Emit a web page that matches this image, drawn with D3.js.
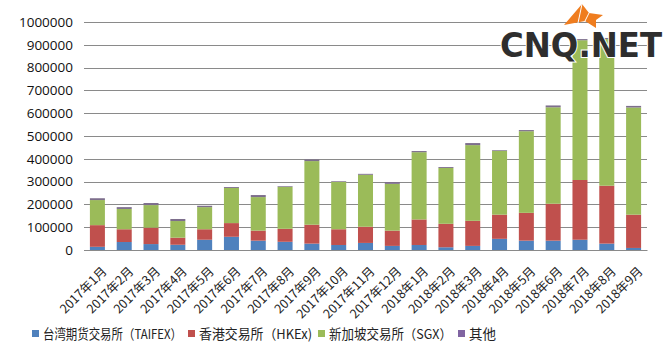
<!DOCTYPE html>
<html>
<head>
<meta charset="utf-8">
<script src="https://cdn.jsdelivr.net/npm/d3@7"></script>
<style>
  body { margin: 0; background: #fff; }
  svg { display: block; }
</style>
</head>
<body>
<script>
// monthly volume by exchange
const months = ["2017年1月", "2017年2月", "2017年3月", "2017年4月", "2017年5月", "2017年6月",
    "2017年7月", "2017年8月", "2017年9月", "2017年10月", "2017年11月", "2017年12月",
    "2018年1月", "2018年2月", "2018年3月", "2018年4月", "2018年5月", "2018年6月",
    "2018年7月", "2018年8月", "2018年9月"];
const taifex = [14000, 35000, 26000, 23000, 45000, 58000, 41000, 36000, 28000, 22000, 31000,
    18000, 22000, 12000, 18000, 49000, 41000, 41000, 45000, 28000, 9000];
const hkex = [95000, 56000, 72000, 31000, 46000, 60000, 44000, 57000, 83000, 69000, 71000,
    67000, 112000, 103000, 110000, 106000, 122000, 162000, 262000, 254000, 146000];
const sgx = [110000, 89000, 99000, 73000, 97000, 154000, 147000, 184000, 279000, 208000, 228000,
    205000, 295000, 245000, 332000, 280000, 358000, 423000, 613000, 643000, 470000];
const other = [8000, 8000, 9000, 9000, 6000, 4000, 9000, 3000, 7000, 3000, 4000,
    8000, 5000, 4000, 9000, 3000, 5000, 8000, 5000, 5000, 7000];
const seriesNames = ["台湾期货交易所（TAIFEX）", "香港交易所（HKEx)", "新加坡交易所（SGX）", "其他"];
const yTicks = [0, 100000, 200000, 300000, 400000, 500000, 600000, 700000, 800000, 900000, 1000000];

const W = 666, H = 352;
const margin = {top: 22, right: 19, bottom: 102, left: 84};
const colors = ["#4f81bd", "#c0504d", "#9bbb59", "#7d6e8c"];
const legendColors = ["#4f81bd", "#c0504d", "#9bbb59", "#8064a2"];
const numFont = "'Open Sans', 'Noto Sans', sans-serif";
const cjkFont = "'Noto Sans CJK SC', 'Noto Sans', sans-serif";

const svg = d3.select("body").append("svg")
    .attr("width", W)
    .attr("height", H);

svg.append("rect").attr("width", W).attr("height", H).attr("fill", "#fff");

// table for the stack
const keys = ["taifex", "hkex", "sgx", "other"];
const rows = months.map((m, i) => ({
    month: m, taifex: taifex[i], hkex: hkex[i], sgx: sgx[i], other: other[i]
}));
const stacked = d3.stack().keys(keys)(rows);

const x = d3.scaleBand()
    .domain(months)
    .range([margin.left, W - margin.right])
    .paddingInner(0.44)
    .paddingOuter(0.22);

const y = d3.scaleLinear()
    .domain([0, 1000000])
    .range([H - margin.bottom, margin.top]);

// grid lines
svg.append("g")
    .selectAll("line")
    .data(yTicks)
    .join("line")
    .attr("x1", margin.left)
    .attr("x2", W - margin.right)
    .attr("y1", d => Math.round(y(d)) + 0.5)
    .attr("y2", d => Math.round(y(d)) + 0.5)
    .attr("stroke", "#8a8a8a")
    .attr("stroke-width", 1);

// y axis labels
const yAxis = d3.axisLeft(y).tickValues(yTicks).tickSize(0).tickPadding(11)
    .tickFormat(d3.format("d"));
svg.append("g")
    .attr("transform", "translate(" + margin.left + ",0)")
    .call(yAxis)
    .call(g => g.select(".domain").remove())
    .selectAll("text")
    .attr("font-family", numFont)
    .attr("font-size", 13.5)
    .attr("fill", "#111");

// bars
svg.append("g")
    .selectAll("g")
    .data(stacked)
    .join("g")
    .attr("fill", (d, i) => colors[i])
    .selectAll("rect")
    .data(d => d)
    .join("rect")
    .attr("x", d => x(d.data.month))
    .attr("y", d => y(d[1]))
    .attr("width", x.bandwidth())
    .attr("height", d => y(d[0]) - y(d[1]));

// x axis
const xAxis = d3.axisBottom(x).tickSize(0).tickPadding(0);
const gx = svg.append("g")
    .attr("transform", "translate(0," + (H - margin.bottom) + ")")
    .call(xAxis);
gx.select(".domain").attr("stroke", "#8a8a8a");
gx.selectAll("text")
    .attr("font-family", cjkFont)
    .attr("font-size", 12.5)
    .attr("fill", "#222")
    .attr("text-anchor", "end")
    .attr("y", 0)
    .attr("dy", "0.35em")
    .attr("transform", "translate(7,19) rotate(-45)");

// legend
const legendX = [32, 188, 318, 458];
const legendW = [139, 113, 123, 0];
const legend = svg.append("g")
    .selectAll("g")
    .data(seriesNames)
    .join("g")
    .attr("transform", (d, i) => "translate(" + legendX[i] + ",334)");
legend.append("rect")
    .attr("x", 0).attr("y", -4)
    .attr("width", 7).attr("height", 7)
    .attr("fill", (d, i) => legendColors[i]);
legend.append("text")
    .attr("x", 11)
    .attr("y", 0)
    .attr("dy", "0.35em")
    .attr("font-family", cjkFont)
    .attr("font-size", 13.5)
    .attr("fill", "#222")
    .text(d => d)
    .each(function(d, i) {
        const w = this.getComputedTextLength();
        if (legendW[i] && w > legendW[i]) {
            d3.select(this)
                .attr("textLength", legendW[i])
                .attr("lengthAdjust", "spacingAndGlyphs");
        }
    });

// CNQ.NET watermark
const logo = svg.append("g");
logo.append("path")
    .attr("d", "M564,25 L582,4 L589,13 L603,15 L596,20 L596,28 L585,21 Z")
    .attr("fill", "#ef7d1f");
logo.append("path")
    .attr("d", "M582,4 L578,23 M589,13 L585,21")
    .attr("stroke", "#fff")
    .attr("stroke-width", 1)
    .attr("fill", "none");
logo.append("text")
    .attr("x", 500)
    .attr("y", 57)
    .attr("font-family", "'DejaVu Sans', sans-serif")
    .attr("font-weight", "bold")
    .attr("font-size", 34)
    .attr("textLength", 162)
    .attr("lengthAdjust", "spacingAndGlyphs")
    .attr("fill", "#2e2e2e")
    .attr("stroke", "#fff")
    .attr("stroke-width", 2)
    .attr("paint-order", "stroke")
    .text("CNQ.NET");
</script>
</body>
</html>
